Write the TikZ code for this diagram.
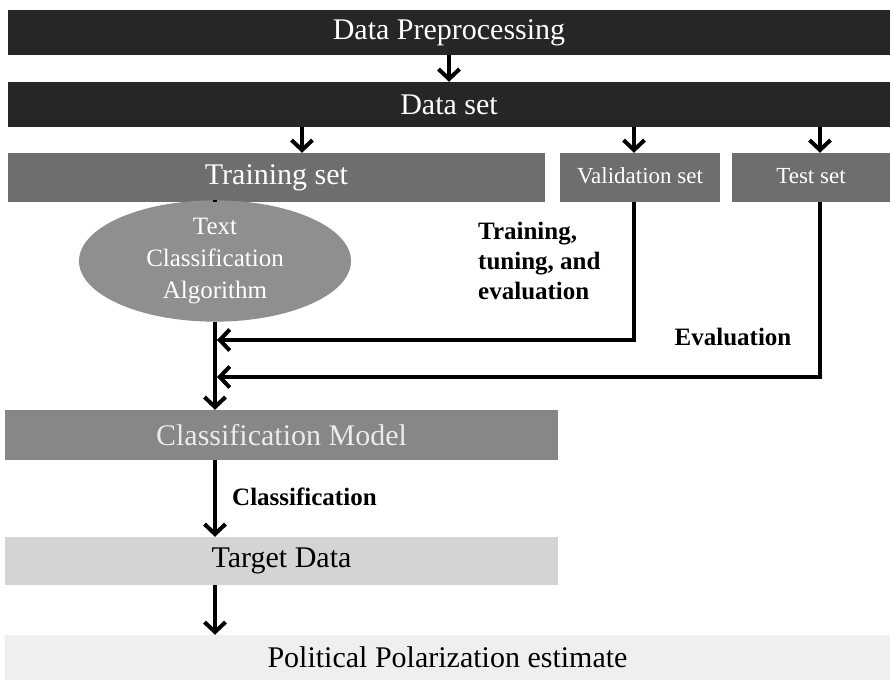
\documentclass[tikz,border=0pt]{standalone}
\usepackage{fontspec}
\setmainfont{Liberation Serif}
\usetikzlibrary{arrows.meta,shapes.geometric}
\definecolor{bardark}{HTML}{262626}
\definecolor{barmid}{HTML}{6E6E6E}
\definecolor{ellgray}{HTML}{8F8F8F}
\definecolor{modgray}{HTML}{878787}
\definecolor{tgtgray}{HTML}{D4D4D4}
\definecolor{polgray}{HTML}{EFEFEF}
\newcommand{\barfont}{\fontsize{30}{32}\selectfont}
\newcommand{\setfont}{\fontsize{23}{25}\selectfont}
\newcommand{\lblfont}{\fontsize{25}{30}\selectfont\bfseries}

\begin{document}
\begin{tikzpicture}[x=1pt,y=-1pt,
   bar/.style={rectangle,inner sep=0pt,text=white},
   flow/.style={line width=3.2pt,-{Straight Barb[length=10pt,width=21pt,line width=4pt]}},
   plain/.style={line width=3.2pt}]
   \useasboundingbox (0,0) rectangle (890,680);
   % top bars
   \node[bar,fill=bardark,minimum width=882pt,minimum height=45pt,font=\barfont] (prep) at (449,32.5) {Data Preprocessing};
   \node[bar,fill=bardark,minimum width=882pt,minimum height=45pt,font=\barfont] (data) at (449,104.5) {Data set};
   % the three sets
   \node[bar,fill=barmid,minimum width=537pt,minimum height=49pt,font=\barfont] (train) at (276.5,177.5) {Training set};
   \node[bar,fill=barmid,minimum width=160pt,minimum height=49pt,text depth=4pt,font=\setfont] (val) at (640,177.5) {Validation set};
   \node[bar,fill=barmid,minimum width=158pt,minimum height=49pt,text depth=4pt,font=\setfont] (test) at (811,177.5) {Test set};
   % algorithm
   \node[ellipse,inner sep=0pt,fill=ellgray,text=white,minimum width=272pt,minimum height=98pt,
     align=center,font=\fontsize{25}{32}\selectfont] (algo) at (215,261) {Text\\Classification\\Algorithm};
   % model, target, estimate
   \node[bar,fill=modgray,text=white!92!black,minimum width=553pt,minimum height=50pt,font=\barfont] (model) at (281.5,435) {Classification Model};
   \node[bar,fill=tgtgray,text=black,minimum width=553pt,minimum height=48pt,font=\barfont] (target) at (281.5,561) {Target Data};
   \node[bar,fill=polgray,text=black,minimum width=885pt,minimum height=45pt,font=\barfont] (est) at (447.5,657.5) {Political Polarization estimate};
   % joins on the trunk
   \coordinate (fb1) at (217,340);
   \coordinate (fb2) at (217,377);
   % arrows
   \draw[flow] (prep.south) -- (data.north);
   \draw[flow] ([xshift=25.5pt]train.north |- data.south) -- ([xshift=25.5pt]train.north);
   \draw[flow] ([xshift=-6pt]val.north |- data.south) -- ([xshift=-6pt]val.north);
   \draw[flow] ([xshift=9pt]test.north |- data.south) -- ([xshift=9pt]test.north);
   \draw[plain] (algo.north |- train.south) -- (algo.north);
   \draw[flow] (algo.south) -- (algo.south |- model.north);
   \draw[flow] ([xshift=-6pt]val.south) |- (fb1);
   \draw[flow] ([xshift=9pt]test.south) |- (fb2);
   \draw[flow] (algo.south |- model.south) -- (algo.south |- target.north);
   \draw[flow] (algo.south |- target.south) -- (algo.south |- est.north);
   % labels
   \node[anchor=north west,align=left,inner sep=0pt,font=\lblfont] (tte) at (478,222) {Training,\\tuning, and\\evaluation};
   \node[inner sep=0pt,font=\lblfont] (evl) at (733,337) {Evaluation};
   \node[anchor=west,inner sep=0pt,font=\lblfont] (cls) at (232,497) {Classification};
\end{tikzpicture}
\end{document}
